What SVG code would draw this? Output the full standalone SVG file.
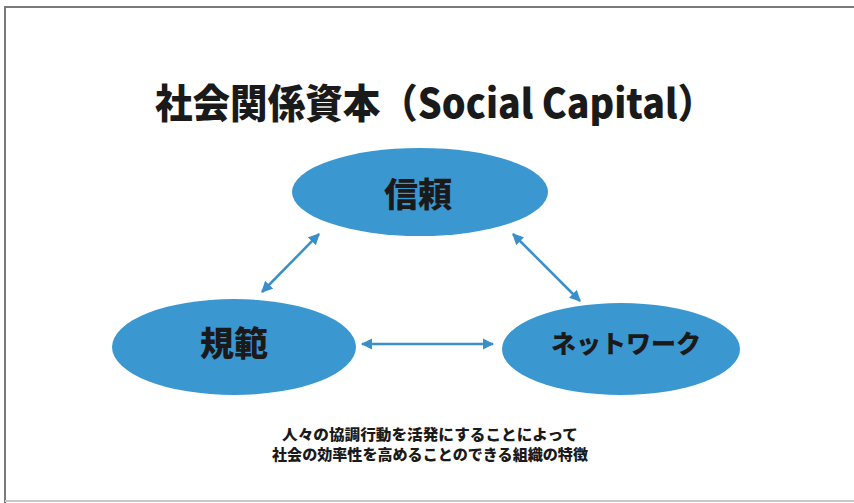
<svg xmlns="http://www.w3.org/2000/svg" width="854" height="503" viewBox="0 0 854 503">
<style>
  .node { fill: #3a97d0; }
  .lbl { font-family: "Noto Sans CJK JP", "Noto Sans", sans-serif; font-weight: 900; fill: #1a1a1a; text-anchor: middle; }
  .conn { stroke: #3a8fc8; stroke-width: 2.5; fill: none; marker-start: url(#ah); marker-end: url(#ah); }
</style>
<defs>
  <marker id="ah" viewBox="0 0 10 10" refX="9" refY="5" markerWidth="4.5" markerHeight="4.5" orient="auto-start-reverse" markerUnits="strokeWidth">
    <path d="M0,0 L10,5 L0,10 z" fill="#3a8fc8"/>
  </marker>
</defs>
<rect x="0" y="0" width="854" height="503" fill="#ffffff"/>
<path d="M5,503 L5,7 L854,7" stroke="#7a7a7a" stroke-width="2" fill="none"/>
<line x1="5" y1="501" x2="854" y2="501" stroke="#c8c8c8" stroke-width="2"/>
<text class="lbl" x="435" y="118" font-size="40" textLength="560" lengthAdjust="spacingAndGlyphs">社会関係資本（Social Capital）</text>
<g id="connectors">
  <line class="conn" x1="262" y1="292" x2="319" y2="234"/>
  <line class="conn" x1="513" y1="234" x2="580" y2="301"/>
  <line class="conn" x1="362" y1="344" x2="493" y2="344"/>
</g>
<g id="node-trust">
  <ellipse class="node" cx="420" cy="192" rx="128" ry="44"/>
  <text class="lbl" x="418" y="207" font-size="34">信頼</text>
</g>
<g id="node-norm">
  <ellipse class="node" cx="234" cy="347" rx="122" ry="48"/>
  <text class="lbl" x="234" y="356" font-size="34">規範</text>
</g>
<g id="node-network">
  <ellipse class="node" cx="621" cy="349" rx="119" ry="46"/>
  <text class="lbl" x="626" y="353" font-size="25">ネットワーク</text>
</g>
<g id="caption">
  <text class="lbl" x="430" y="440" font-size="14.5" textLength="296" lengthAdjust="spacingAndGlyphs">人々の協調行動を活発にすることによって</text>
  <text class="lbl" x="430" y="460" font-size="14.5" textLength="316" lengthAdjust="spacingAndGlyphs">社会の効率性を高めることのできる組織の特徴</text>
</g>
</svg>
